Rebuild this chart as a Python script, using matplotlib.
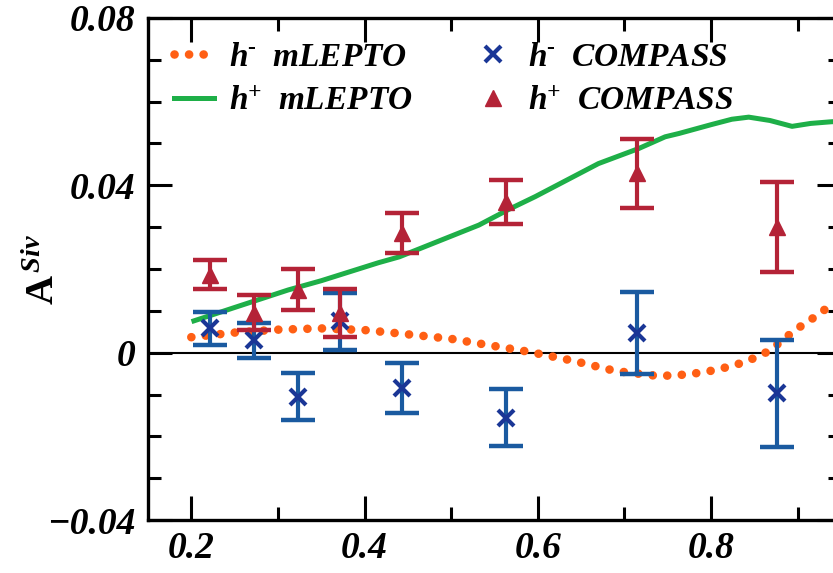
import matplotlib
matplotlib.use("Agg")
import matplotlib.pyplot as plt
from matplotlib.ticker import FixedLocator, MultipleLocator

# ---------------- data ----------------
# h- mLEPTO (dotted orange curve)
lep_m_x = [0.200, 0.250, 0.300, 0.350, 0.400, 0.440, 0.500, 0.555, 0.590, 0.640,
           0.690, 0.740, 0.774, 0.807, 0.840, 0.867, 0.897, 0.926, 0.950]
lep_m_y = [0.0037, 0.0048, 0.0055, 0.0058, 0.0054, 0.0046, 0.0033, 0.0014, 0.0002, -0.0019,
           -0.0044, -0.0056, -0.0052, -0.0041, -0.0022, 0.0004, 0.0054, 0.0094, 0.0135]

# h+ mLEPTO (solid green curve)
lep_p_x = [0.203, 0.250, 0.312, 0.350, 0.416, 0.440, 0.532, 0.566, 0.597, 0.670,
           0.7165, 0.747, 0.763, 0.800, 0.824, 0.8435, 0.868, 0.8935, 0.915, 0.939, 0.950]
lep_p_y = [0.0076, 0.0108, 0.0150, 0.0172, 0.0215, 0.0229, 0.0305, 0.0342, 0.0373, 0.0452,
           0.0488, 0.0516, 0.0524, 0.0545, 0.0558, 0.0563, 0.0555, 0.0541, 0.0548, 0.0552, 0.0553]

# COMPASS data
z_bins = [0.222, 0.272, 0.323, 0.372, 0.443, 0.563, 0.715, 0.876]
hm_val = [0.0058, 0.0030, -0.0105, 0.0075, -0.0085, -0.0155, 0.0048, -0.0097]
hm_err = [0.0040, 0.0042, 0.0056, 0.0068, 0.0060, 0.0067, 0.0098, 0.0128]
hp_val = [0.0186, 0.0096, 0.0150, 0.0095, 0.0287, 0.0360, 0.0429, 0.0301]
hp_err = [0.0035, 0.0042, 0.0049, 0.0057, 0.0048, 0.0053, 0.0082, 0.0108]

x_major = [0.2, 0.4, 0.6, 0.8]
x_labels = ["0.2", "0.4", "0.6", "0.8"]
y_major = [-0.04, 0.0, 0.04, 0.08]
y_labels = ["\u22120.04", "0", "0.04", "0.08"]

labels = [r"$\mathbfit{h}^{\text{-}}\ \ \mathbfit{mLEPTO}$",
          r"$\mathbfit{h}^{\mathbfit{+}}\ \ \mathbfit{mLEPTO}$",
          r"$\mathbfit{h}^{\text{-}}\ \ \mathbfit{COMPASS}$",
          r"$\mathbfit{h}^{\mathbfit{+}}\ \ \mathbfit{COMPASS}$"]

# ---------------- style ----------------
plt.rcParams['font.family'] = ['Liberation Serif', 'DejaVu Serif']
plt.rcParams['mathtext.fontset'] = 'custom'
plt.rcParams['mathtext.rm'] = 'Liberation Serif:bold'
plt.rcParams['mathtext.it'] = 'Liberation Serif:italic'
plt.rcParams['mathtext.bf'] = 'Liberation Serif:bold'
plt.rcParams['mathtext.bfit'] = 'Liberation Serif:bold:italic'

C_ORANGE = '#ff5f14'
C_GREEN = '#1eaf48'
C_BLUE_BAR = '#1a5aa0'
C_BLUE_MK = '#1a3696'
C_RED = '#b42337'

fig = plt.figure(figsize=(8.33, 5.73), dpi=100)
ax = fig.add_axes([148 / 833, 53 / 573, 693 / 833, 502 / 573])

ax.plot(lep_m_x, lep_m_y, color=C_ORANGE, lw=6.2, linestyle=(0, (0.01, 1.68)),
        dash_capstyle='round', label=labels[0], zorder=3)
ax.plot(lep_p_x, lep_p_y, color=C_GREEN, lw=3.6, label=labels[1], zorder=3)

ax.errorbar(z_bins, hm_val, yerr=hm_err, fmt='none', ecolor=C_BLUE_BAR,
            elinewidth=3, capsize=12, capthick=3.2, zorder=4)
ax.plot(z_bins, hm_val, linestyle='none', marker='x', markersize=11,
        markeredgewidth=3, color=C_BLUE_MK, label=labels[2], zorder=5)
ax.errorbar(z_bins, hp_val, yerr=hp_err, fmt='none', ecolor=C_RED,
            elinewidth=3, capsize=12, capthick=3.2, zorder=6)
ax.plot(z_bins, hp_val, linestyle='none', marker='^', markersize=12,
        color=C_RED, label=labels[3], zorder=7)

ax.axhline(0, color='black', lw=1.5, zorder=2)

ax.set_xlim(0.15, 0.95)
ax.set_ylim(-0.04, 0.08)

ax.xaxis.set_major_locator(FixedLocator(x_major))
ax.xaxis.set_minor_locator(MultipleLocator(0.1))
ax.yaxis.set_major_locator(FixedLocator(y_major))
ax.yaxis.set_minor_locator(MultipleLocator(0.01))
ax.set_xticklabels(x_labels)
ax.set_yticklabels(y_labels)

ax.tick_params(which='both', direction='in', top=True, right=True, width=2.2)
ax.tick_params(which='major', length=17)
ax.tick_params(which='minor', length=9.5)
ax.tick_params(axis='x', which='major', pad=8)
ax.tick_params(axis='y', which='major', pad=9)
for lab in ax.get_xticklabels() + ax.get_yticklabels():
    lab.set_fontsize(27)
    lab.set_fontweight('bold')
    lab.set_fontstyle('italic')

for sp in ax.spines.values():
    sp.set_linewidth(2.4)

ax.set_ylabel(r"$\mathbf{A}^{\,\mathbfit{Siv}}$", fontsize=29)
ax.yaxis.set_label_coords(-0.122, 0.5)

leg = ax.legend(ncol=2, loc='upper left', bbox_to_anchor=(0.038, 0.952),
                frameon=False, fontsize=24, handlelength=1.2, handletextpad=0.45,
                columnspacing=1.8, labelspacing=0.42, borderpad=0, borderaxespad=0)

fig.savefig('out.png', dpi=100)
